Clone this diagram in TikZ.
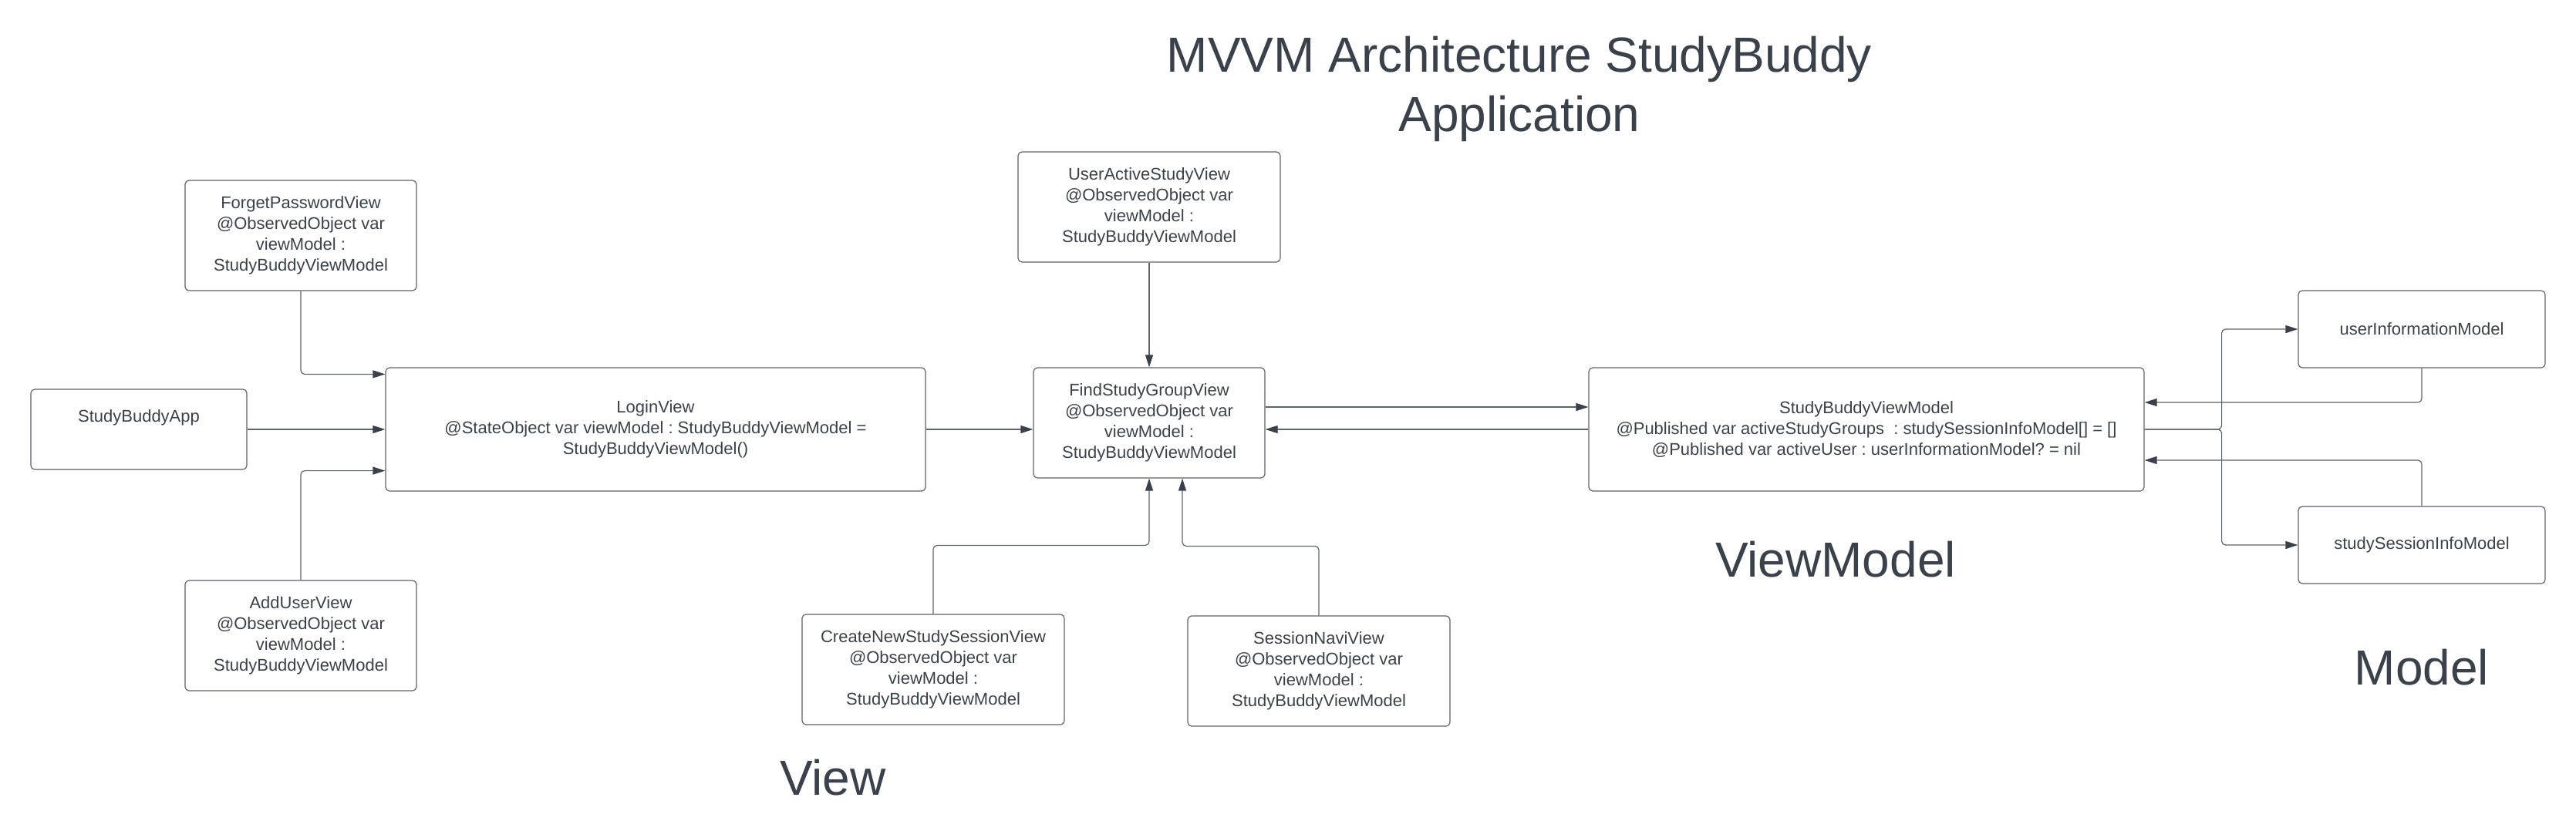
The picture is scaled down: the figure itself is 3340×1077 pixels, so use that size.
\documentclass[tikz,border=0pt]{standalone}
\usepackage{fontspec}
\setmainfont{Liberation Sans}
\usetikzlibrary{arrows.meta}
\definecolor{inkgray}{RGB}{58,65,74}
\definecolor{wiregray}{RGB}{95,99,106}
\frenchspacing

\begin{document}
\begin{tikzpicture}[x = 1pt, y = -1pt,
	>={Triangle[length = 16pt, width = 10pt, color = inkgray]},
	box/.style = {draw = wiregray, line width = 1.2pt, rounded corners = 5pt, align = center, text = inkgray, font = \fontsize{22}{27}\selectfont, inner sep = 0pt},
	wire/.style = {draw = wiregray, line width = 1.2pt, rounded corners = 5pt, ->},
	heading/.style = {text = inkgray, font = \fontsize{64}{77}\selectfont, inner sep = 0pt, anchor = base}]
	\useasboundingbox (0, 0) rectangle (3340, 1077);

	\node[heading] (title) at (1970, 93) {MVVM Architecture StudyBuddy};
	\node[heading] (subtitle) at (1970, 170) {Application};
	\node[heading] (viewlabel) at (1080, 1031) {View};
	\node[heading] (vmlabel) at (2380, 748) {ViewModel};
	\node[heading] (modellabel) at (3140, 888) {Model};

	\node[box, minimum width = 280pt, minimum height = 104pt] (app) at (180, 557) {StudyBuddyApp\\\strut};
	\node[box, minimum width = 300pt, minimum height = 143pt] (forgetpw) at (390, 305.5) {ForgetPasswordView\\@ObservedObject var\\viewModel :\\StudyBuddyViewModel};
	\node[box, minimum width = 300pt, minimum height = 143pt] (adduser) at (390, 824.5) {AddUserView\\@ObservedObject var\\viewModel :\\StudyBuddyViewModel};
	\node[box, minimum width = 700pt, minimum height = 160pt] (login) at (850, 557) {LoginView\\@StateObject var viewModel : StudyBuddyViewModel =\\StudyBuddyViewModel()};
	\node[box, minimum width = 340pt, minimum height = 143pt] (useractive) at (1490, 268.5) {UserActiveStudyView\\@ObservedObject var\\viewModel :\\StudyBuddyViewModel};
	\node[box, minimum width = 300pt, minimum height = 143pt] (findgroup) at (1490, 548.5) {FindStudyGroupView\\@ObservedObject var\\viewModel :\\StudyBuddyViewModel};
	\node[box, minimum width = 340pt, minimum height = 143pt] (createsession) at (1210, 868.5) {CreateNewStudySessionView\\@ObservedObject var\\viewModel :\\StudyBuddyViewModel};
	\node[box, minimum width = 340pt, minimum height = 143pt] (sessionnavi) at (1710, 870.5) {SessionNaviView\\@ObservedObject var\\viewModel :\\StudyBuddyViewModel};
	\node[box, minimum width = 720pt, minimum height = 160pt] (viewmodel) at (2420, 557) {StudyBuddyViewModel\\@Published var activeStudyGroups~ : studySessionInfoModel[] = []\\@Published var activeUser : userInformationModel? = nil};
	\node[box, minimum width = 320pt, minimum height = 100pt] (userinfo) at (3140, 427) {userInformationModel};
	\node[box, minimum width = 320pt, minimum height = 100pt] (sessioninfo) at (3140, 707) {studySessionInfoModel};

	\draw[wire] (forgetpw.south) |- ([yshift = -9pt]login.north west);
	\draw[wire] (app.east) -- (login.west);
	\draw[wire] (adduser.north) |- ([yshift = 27pt]login.south west);
	\draw[wire] (login.east) -- (login.east -| findgroup.west);
	\draw[wire] (useractive.south) -- (findgroup.north);

	\coordinate (vmin) at ([yshift = 29pt]viewmodel.west);
	\draw[wire] (vmin -| findgroup.east) -- (vmin);
	\draw[wire] (viewmodel.west) -- (viewmodel.west -| findgroup.east);

	\draw[wire] (createsession.north) -- ++(0, -89) -| (findgroup.south);
	\draw[wire] (sessionnavi.north) -- ++(0, -90) -| ([xshift = 43pt]findgroup.south);

	\draw[wire] (viewmodel.east) -- ++(100, 0) |- (userinfo.west);
	\draw[wire] (viewmodel.east) -- ++(100, 0) |- (sessioninfo.west);
	\draw[wire] (userinfo.south) |- ([yshift = 35pt]viewmodel.east);
	\draw[wire] (sessioninfo.north) |- ([yshift = -40pt]viewmodel.east);
\end{tikzpicture}
\end{document}
